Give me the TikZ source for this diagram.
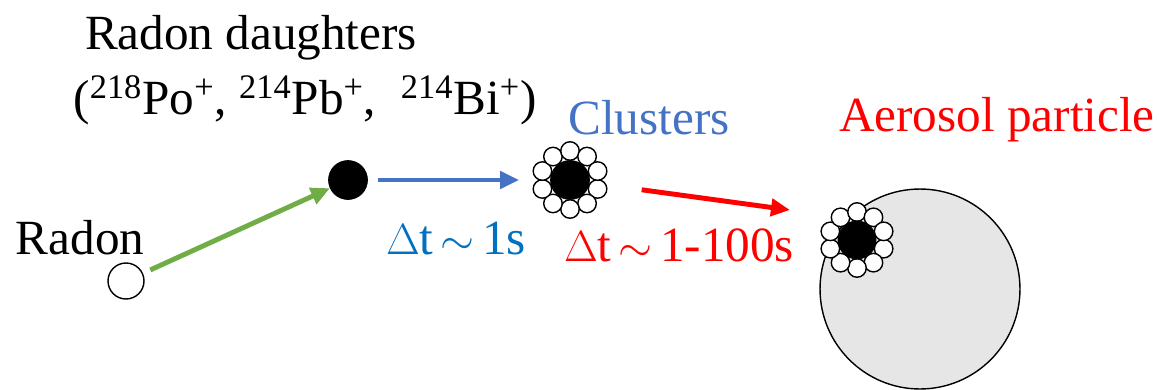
\documentclass[tikz,border=0pt]{standalone}
\usepackage{fontspec}
\newfontfamily\timesrm{Liberation Serif}
\usetikzlibrary{arrows.meta,calc}
\definecolor{arrgreen}{RGB}{112,173,71}
\definecolor{arrblue}{RGB}{68,114,196}
\definecolor{txtblue}{RGB}{0,112,192}
\definecolor{partgrey}{RGB}{230,230,230}

\begin{document}
\begin{tikzpicture}[x=0.02cm,y=-0.02cm]
\tikzset{
  textlabel/.style={font={\fontsize{28}{32}\selectfont\timesrm},inner sep=0pt},
  radonatom/.style={circle,draw,thick,fill=white,minimum size=0.72cm,inner sep=0pt},
  daughter/.style={circle,draw,fill=black,minimum size=0.78cm,inner sep=0pt},
  satellite/.style={circle,draw,thick,fill=white,minimum size=0.37cm,inner sep=0pt},
  flow/.style={line width=2.8pt,-{Triangle[length=0.38cm,width=0.34cm]}}
}
\useasboundingbox (0,0) rectangle (1159,389);
% aerosol particle
\node[circle,draw,thick,fill=partgrey,minimum size=4cm,inner sep=0pt] (n_part) at (920,289) {};
% atoms
\node[radonatom] (n_rn) at (126,281) {};
\node[daughter] (n_po) at (348,180) {};
\foreach \a in {0,36,...,324}
  \node[satellite] (n_s\a) at ($(570,180)+(\a+18:29)$) {};
\node[daughter] (n_cl) at (570,180) {};
\foreach \a in {0,36,...,324}
  \node[satellite] (n_t\a) at ($(857,240)+(\a+18:28)$) {};
\node[daughter,minimum size=0.76cm] (n_pcl) at (857,240) {};
\coordinate (redend) at (790,210);
% labels
\node[textlabel] (t_rn) at (80,238) {\timesrm Radon};
\node[textlabel] (t_dau) at (251,38) {\timesrm Radon daughters};
\node[textlabel] (t_ions) at (305,100) {\timesrm(\textsuperscript{218}Po\textsuperscript{+}, \textsuperscript{214}Pb\textsuperscript{+}, \ \textsuperscript{214}Bi\textsuperscript{+})};
\node[textlabel,text=arrblue] (t_cl) at (649,118) {\timesrm Clusters};
\node[textlabel,text=red] (t_part) at (997,120) {\timesrm Aerosol particle};
\node[textlabel,text=txtblue] (t_dt1) at (456,238) {$\Delta$t$\,\sim\,$1s};
\node[textlabel,text=red] (t_dt2) at (679,245) {$\Delta$t$\,\sim\,$1-100s};
% arrows
\draw[flow,arrgreen,shorten <=0.16cm] (n_rn) -- (n_po);
\draw[flow,arrblue,shorten <=0.2cm,shorten >=0.62cm] (n_po) -- (n_cl);
\draw[flow,red,shorten <=1.05cm] (n_cl) -- (redend);
\end{tikzpicture}
\end{document}
